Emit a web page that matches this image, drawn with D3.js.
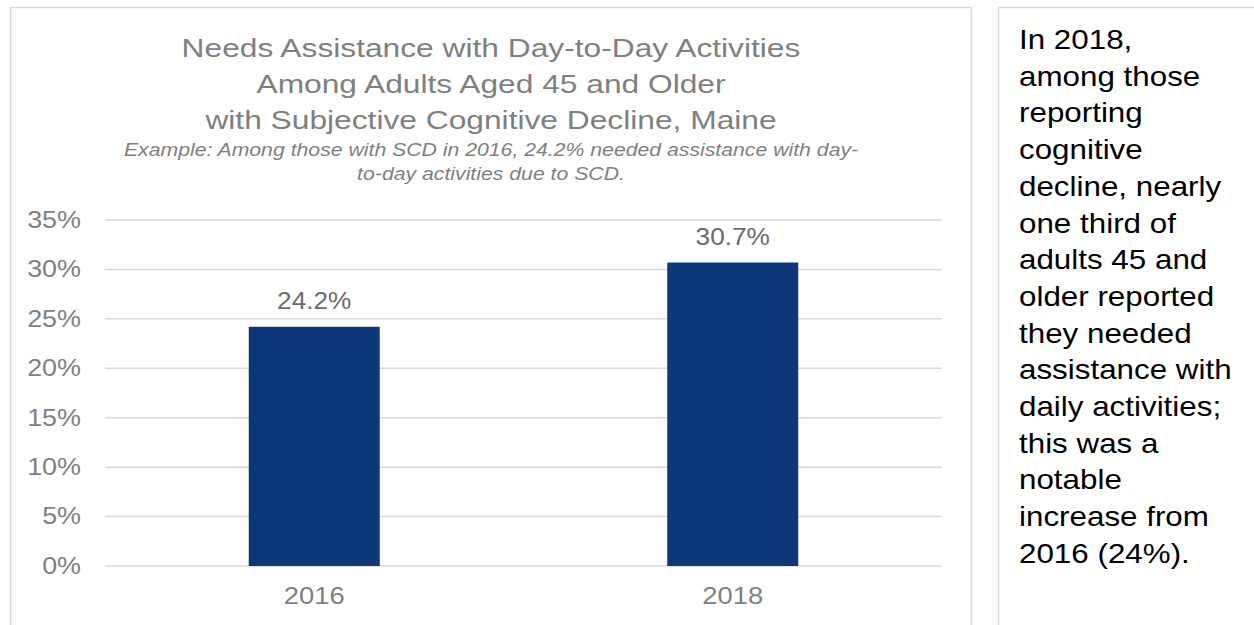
<!DOCTYPE html>
<html>
<head>
<meta charset="utf-8">
<script src="https://cdn.jsdelivr.net/npm/d3@7"></script>
<style>
  body { margin: 0; background: #ffffff; }
  svg { display: block; font-family: "Liberation Sans", Arial, sans-serif; }
</style>
</head>
<body>
<div id="graph"></div>
<script>
// Data
var years = ["2016", "2018"];
var percentNeedingHelp = [24.2, 30.7];
var yTicks = [0, 5, 10, 15, 20, 25, 30, 35];

var titleLines = [
    "Needs Assistance with Day-to-Day Activities",
    "Among Adults Aged 45 and Older",
    "with Subjective Cognitive Decline, Maine"
];
var subtitleLines = [
    "Example: Among those with SCD in 2016, 24.2% needed assistance with day-",
    "to-day activities due to SCD."
];
var noteLines = [
    "In 2018,", "among those", "reporting", "cognitive", "decline, nearly",
    "one third of", "adults 45 and", "older reported", "they needed",
    "assistance with", "daily activities;", "this was a", "notable",
    "increase from", "2016 (24%)."
];

// Canvas Info
var CanvasInfo = { width: 1254, height: 625 };
var Plot = { left: 105, right: 942, top: 220, bottom: 566 };
var gray = "#7f7f7f";
var border = "#d9d9d9";

// the source picture is a bit wider than tall, so text gets stretched sideways
function stretched(sx) { return "scale(" + sx + ",1)"; }

var svg = d3.select("#graph").append("svg")
    .attr("width", CanvasInfo.width)
    .attr("height", CanvasInfo.height);

// chart frame and note frame (open at the bottom / right)
svg.append("rect")
   .attr("x", 10.5).attr("y", 7.5)
   .attr("width", 961).attr("height", 640)
   .attr("fill", "none").attr("stroke", border).attr("stroke-width", 1.5);
svg.append("rect")
   .attr("x", 998.5).attr("y", 7.5)
   .attr("width", 300).attr("height", 640)
   .attr("fill", "none").attr("stroke", border).attr("stroke-width", 1.5);

// Titles
svg.append("g").selectAll("text")
   .data(titleLines).enter().append("text")
   .attr("transform", function(d, i) { return "translate(491," + (57 + i * 36) + ") " + stretched(1.22); })
   .attr("text-anchor", "middle")
   .style("font-size", "26px").style("fill", gray)
   .text(function(d) { return d; });

svg.append("g").selectAll("text")
   .data(subtitleLines).enter().append("text")
   .attr("transform", function(d, i) { return "translate(491," + (156 + i * 24) + ") " + stretched(1.18); })
   .attr("text-anchor", "middle")
   .style("font-size", "18px").style("font-style", "italic").style("fill", gray)
   .text(function(d) { return d; });

// Scales
var x = d3.scaleBand().domain(years)
    .range([Plot.left, Plot.right])
    .paddingInner(0.687).paddingOuter(0.3435);
var y = d3.scaleLinear().domain([0, 35]).range([Plot.bottom, Plot.top]);

// Gridlines
svg.append("g").selectAll("line")
   .data(yTicks).enter().append("line")
   .attr("x1", Plot.left).attr("x2", Plot.right)
   .attr("y1", function(d) { return y(d); }).attr("y2", function(d) { return y(d); })
   .attr("stroke", border).attr("stroke-width", 1.5);

// Y axis labels
var yAxis = svg.append("g")
   .attr("transform", "translate(" + (Plot.left - 24) + ",0)")
   .call(d3.axisLeft(y).tickValues(yTicks).tickSize(0).tickPadding(0)
           .tickFormat(function(d) { return d + "%"; }));
yAxis.select(".domain").remove();
yAxis.selectAll("text").attr("transform", stretched(1.17))
     .style("font-size", "23px").style("fill", gray)
     .style("font-family", "Liberation Sans, Arial, sans-serif");

// X axis labels
var xAxis = svg.append("g")
   .attr("transform", "translate(0," + Plot.bottom + ")")
   .call(d3.axisBottom(x).tickSize(0).tickPadding(21));
xAxis.select(".domain").remove();
xAxis.selectAll("text").attr("transform", stretched(1.14))
     .style("font-size", "24px").style("fill", gray)
     .style("font-family", "Liberation Sans, Arial, sans-serif");

// Bars
var data = years.map(function(yr, i) { return { year: yr, value: percentNeedingHelp[i] }; });
svg.append("g").selectAll("rect")
   .data(data).enter().append("rect")
   .attr("x", function(d) { return x(d.year); })
   .attr("y", function(d) { return y(d.value); })
   .attr("width", x.bandwidth())
   .attr("height", function(d) { return Plot.bottom - y(d.value); })
   .attr("fill", "#0e3779");

// Value labels
svg.append("g").selectAll("text")
   .data(data).enter().append("text")
   .attr("transform", function(d) {
       return "translate(" + (x(d.year) + x.bandwidth() / 2) + "," + (y(d.value) - 18) + ") " + stretched(1.14);
   })
   .attr("text-anchor", "middle")
   .style("font-size", "23px").style("fill", "#6b6b6b")
   .text(function(d) { return d.value.toFixed(1) + "%"; });

// Note text
svg.append("g").selectAll("text")
   .data(noteLines).enter().append("text")
   .attr("transform", function(d, i) { return "translate(1019," + (49 + i * 36.7) + ") " + stretched(1.12); })
   .style("font-size", "28px").style("fill", "#000000")
   .text(function(d) { return d; });
</script>
</body>
</html>
